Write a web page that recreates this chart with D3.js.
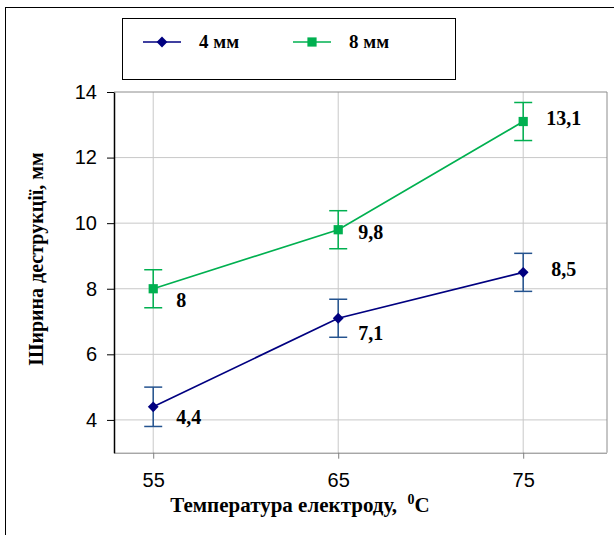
<!DOCTYPE html>
<html lang="uk">

<head>
  <meta charset="UTF-8">
  <title>Ширина деструкції</title>
  <script src="https://d3js.org/d3.v7.min.js"></script>
  <style>
    body { margin: 0; background: #fff; }
    svg { display: block; }
  </style>
</head>

<body>
  <svg id="chart" width="614" height="535"></svg>

  <script>
    // data
    const temps = [55, 65, 75];
    const series4 = [4.4, 7.1, 8.5];
    const series8 = [8.0, 9.8, 13.1];
    const err4 = [0.6, 0.58, 0.58];
    const err8 = [0.58, 0.58, 0.58];
    const labels4 = ["4,4", "7,1", "8,5"];
    const labels8 = ["8", "9,8", "13,1"];
    const yTicks = [4, 6, 8, 10, 12, 14];
    const seriesNames = ["4 мм", "8 мм"];

    // label offsets (px) from point
    const shift4 = [[23, 10], [20, 15], [28, -3]];
    const shift8 = [[23, 11], [20, 2], [23, -4]];

    const svg = d3.select("#chart");
    const plot = { left: 114, right: 607, top: 92, bottom: 452.7 };
    const serif = "'Liberation Serif', 'Times New Roman', serif";
    const sans = "'Liberation Sans', Arial, sans-serif";

    // outer frame
    svg.append("rect")
      .attr("x", 5.5).attr("y", 7.5)
      .attr("width", 640).attr("height", 560)
      .attr("fill", "none")
      .attr("stroke", "#000")
      .attr("stroke-width", 1);

    const x = d3.scaleLinear().domain([52.88, 79.53]).range([plot.left, plot.right]);
    const y = d3.scaleLinear().domain([3, 14]).range([plot.bottom, plot.top]);

    // grid
    svg.append("g")
      .selectAll("line")
      .data(yTicks.slice(0, -1))
      .enter().append("line")
      .attr("x1", plot.left).attr("x2", plot.right)
      .attr("y1", d => y(d)).attr("y2", d => y(d))
      .attr("stroke", "#c8c8c8");

    svg.append("g")
      .selectAll("line")
      .data(temps)
      .enter().append("line")
      .attr("x1", d => x(d)).attr("x2", d => x(d))
      .attr("y1", plot.top).attr("y2", plot.bottom)
      .attr("stroke", "#c8c8c8");

    // plot border (top, right)
    svg.append("path")
      .attr("d", `M${plot.left},${plot.top}H${plot.right}V${plot.bottom}`)
      .attr("fill", "none")
      .attr("stroke", "#8c8c8c");

    // x axis
    const xAxis = svg.append("g")
      .attr("transform", `translate(0, ${plot.bottom})`)
      .call(d3.axisBottom(x).tickValues(temps).tickSize(6).tickPadding(14).tickSizeOuter(0));
    xAxis.select(".domain").attr("stroke", "#808080").attr("d", `M${plot.left},0.5H${plot.right}`);
    xAxis.selectAll(".tick line").attr("stroke", "#808080");
    xAxis.selectAll("text")
      .attr("font-family", sans)
      .attr("font-size", 20)
      .attr("fill", "#000");

    // y axis
    const yAxis = svg.append("g")
      .attr("transform", `translate(${plot.left}, 0)`)
      .call(d3.axisLeft(y).tickValues(yTicks).tickSize(7).tickPadding(10).tickSizeOuter(0));
    yAxis.select(".domain").attr("stroke", "#000").attr("stroke-width", 1.5);
    yAxis.selectAll(".tick line").attr("stroke", "#000");
    yAxis.selectAll("text")
      .attr("font-family", sans)
      .attr("font-size", 20)
      .attr("fill", "#000");

    // axis titles
    const xt = svg.append("text")
      .attr("x", 300).attr("y", 512)
      .attr("text-anchor", "middle")
      .attr("font-family", serif)
      .attr("font-weight", "bold")
      .attr("font-size", 21)
      .style("white-space", "pre")
      .text("Температура електроду,  ");
    xt.append("tspan")
      .attr("dy", -8)
      .attr("font-size", 14)
      .text("0");
    xt.append("tspan")
      .attr("dy", 8)
      .text("C");

    svg.append("text")
      .attr("transform", "translate(43, 259) rotate(-90)")
      .attr("text-anchor", "middle")
      .attr("font-family", serif)
      .attr("font-weight", "bold")
      .attr("font-size", 20)
      .text("Ширина деструкції, мм");

    const cfg = [
      { vals: series4, err: err4, labels: labels4, shift: shift4, color: "#000080", errColor: "#24538f", shape: d3.symbolSquare, size: 58, rot: 45 },
      { vals: series8, err: err8, labels: labels8, shift: shift8, color: "#00b050", errColor: "#00b050", shape: d3.symbolSquare, size: 85, rot: 0 }
    ];

    const line = d3.line()
      .x((d, i) => x(temps[i]))
      .y(d => y(d));

    cfg.forEach(s => {
      const g = svg.append("g");

      // error bars
      s.vals.forEach((v, i) => {
        const cx = x(temps[i]);
        const e = g.append("g").attr("stroke", s.errColor).attr("stroke-width", 1.5);
        e.append("line").attr("x1", cx).attr("x2", cx).attr("y1", y(v + s.err[i])).attr("y2", y(v - s.err[i]));
        e.append("line").attr("x1", cx - 9).attr("x2", cx + 9).attr("y1", y(v + s.err[i])).attr("y2", y(v + s.err[i]));
        e.append("line").attr("x1", cx - 9).attr("x2", cx + 9).attr("y1", y(v - s.err[i])).attr("y2", y(v - s.err[i]));
      });

      g.append("path")
        .datum(s.vals)
        .attr("fill", "none")
        .attr("stroke", s.color)
        .attr("stroke-width", 1.7)
        .attr("d", line);

      g.selectAll(".marker")
        .data(s.vals)
        .enter().append("path")
        .attr("class", "marker")
        .attr("transform", (d, i) => `translate(${x(temps[i])}, ${y(d)}) rotate(${s.rot})`)
        .attr("d", d3.symbol().type(s.shape).size(s.size))
        .attr("fill", s.color);

      g.selectAll(".lbl")
        .data(s.vals)
        .enter().append("text")
        .attr("class", "lbl")
        .attr("x", (d, i) => x(temps[i]) + s.shift[i][0])
        .attr("y", (d, i) => y(d) + s.shift[i][1])
        .attr("dy", "0.35em")
        .attr("font-family", serif)
        .attr("font-weight", "bold")
        .attr("font-size", 20)
        .text((d, i) => s.labels[i]);
    });

    // legend
    const lg = svg.append("g");
    lg.append("rect")
      .attr("x", 122.5).attr("y", 18.5)
      .attr("width", 333).attr("height", 61)
      .attr("fill", "#fff")
      .attr("stroke", "#000");

    const legX = [143, 293];
    cfg.forEach((s, i) => {
      lg.append("line")
        .attr("x1", legX[i]).attr("x2", legX[i] + 38)
        .attr("y1", 42).attr("y2", 42)
        .attr("stroke", s.color)
        .attr("stroke-width", 1.3);
      lg.append("path")
        .attr("transform", `translate(${legX[i] + 19}, 42) rotate(${s.rot})`)
        .attr("d", d3.symbol().type(s.shape).size(s.size))
        .attr("fill", s.color);
      lg.append("text")
        .attr("x", legX[i] + 56).attr("y", 41)
        .attr("dy", "0.35em")
        .attr("font-family", serif)
        .attr("font-weight", "bold")
        .attr("font-size", 19)
        .text(seriesNames[i]);
    });
  </script>
</body>

</html>
